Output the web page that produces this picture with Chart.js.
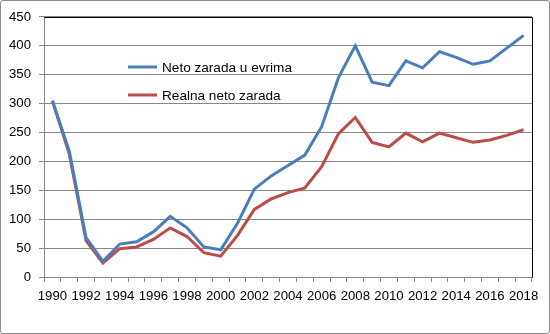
<!DOCTYPE html>
<html><head><meta charset="utf-8">
<script src="https://cdn.jsdelivr.net/npm/chart.js@4/dist/chart.umd.min.js"></script>
<style>
html,body{margin:0;padding:0;background:#fff;}
#wrap{position:absolute;left:0;top:0;width:548px;height:332px;border:1px solid #8c8c8c;border-radius:3px;background:#fff;}
canvas{display:block;}
</style></head>
<body>
<div id="wrap"><canvas id="c" width="548" height="332"></canvas></div>
<script>
const years = [1990,1991,1992,1993,1994,1995,1996,1997,1998,1999,2000,2001,2002,2003,2004,2005,2006,2007,2008,2009,2010,2011,2012,2013,2014,2015,2016,2017,2018];
const netoEvri = [305,218,68,27,57,61,78,105,85,52,47,93,152,175,193,211,260,345,400,337,331,374,362,390,380,368,374,396,418];
const realnaNeto = [305,213,63,24,49,52,65,85,70,42,36,72,117,135,146,154,191,248,276,233,225,249,234,249,241,233,237,245,255];
const seriesNames = ['Neto zarada u evrima','Realna neto zarada'];
const yTicks = [0,50,100,150,200,250,300,350,400,450];

const FONT = "'Liberation Sans', Arial, sans-serif";

const legendPlugin = {
  id:'inlineLegend',
  afterDatasetsDraw(chart){
    const ctx = chart.ctx;
    const x0 = 127, y0 = 66, gap = 28;
    chart.data.datasets.forEach((ds,i)=>{
      const y = y0 + i*gap;
      ctx.save();
      ctx.strokeStyle = ds.borderColor;
      ctx.lineWidth = 3;
      ctx.beginPath(); ctx.moveTo(x0, y); ctx.lineTo(x0+29, y); ctx.stroke();
      ctx.fillStyle = '#000';
      ctx.font = "13.6px " + FONT;
      ctx.textBaseline = 'middle';
      ctx.fillText(ds.label, x0+34, y+1);
      ctx.restore();
    });
  }
};
const borderPlugin = {
  id:'plotBorder',
  afterDraw(chart){
    const a = chart.chartArea, ctx = chart.ctx;
    ctx.save();
    ctx.strokeStyle = '#000';
    ctx.lineWidth = 1;
    ctx.beginPath();
    ctx.moveTo(Math.round(a.left)+0.5, Math.round(a.top)+0.5);
    ctx.lineTo(Math.round(a.right)+0.5, Math.round(a.top)+0.5);
    ctx.lineTo(Math.round(a.right)+0.5, Math.round(a.bottom)+0.5);
    ctx.stroke();
    ctx.restore();
  }
};

new Chart(document.getElementById('c'), {
  type:'line',
  data:{
    labels: years,
    datasets:[
      {label:seriesNames[0], data:netoEvri, borderColor:'#4a7ebb', backgroundColor:'#4a7ebb', borderWidth:3, pointRadius:0, tension:0},
      {label:seriesNames[1], data:realnaNeto, borderColor:'#be4b48', backgroundColor:'#be4b48', borderWidth:3, pointRadius:0, tension:0}
    ]
  },
  options:{
    responsive:false, animation:false, devicePixelRatio:1,
    layout:{padding:{left:0,right:17,top:15,bottom:24}},
    plugins:{legend:{display:false}, tooltip:{enabled:false}},
    scales:{
      x:{
        type:'category', offset:true,
        grid:{offset:true, drawOnChartArea:false, drawTicks:true, tickLength:5, color:'#868686'},
        border:{color:'#868686'},
        ticks:{autoSkip:false, maxRotation:0, padding:6, color:'#000', font:{family:FONT,size:13.2},
          callback:function(v,i){ return (years[i]%2===0) ? String(years[i]) : ''; }},
        afterFit(s){ s.height = 32; }
      },
      y:{
        min:0, max:450,
        afterBuildTicks(s){ s.ticks = yTicks.map(v=>({value:v})); },
        grid:{color:'#868686', drawTicks:true, tickLength:5},
        border:{color:'#868686'},
        ticks:{padding:8, color:'#000', font:{family:FONT,size:13.2}},
        afterFit(s){ s.width = 43; }
      }
    }
  },
  plugins:[legendPlugin, borderPlugin]
});
</script>
</body></html>
